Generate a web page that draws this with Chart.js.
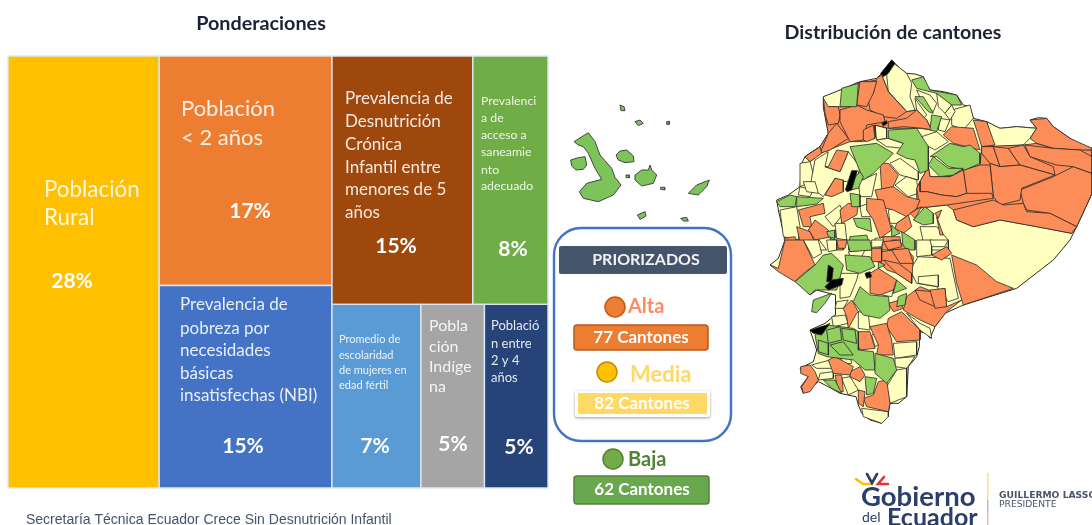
<!DOCTYPE html>
<html lang="es"><head><meta charset="utf-8"><title>Ponderaciones y distribución de cantones</title>
<script src="https://cdn.jsdelivr.net/npm/chart.js@4"></script>
<style>html,body{margin:0;padding:0;background:#fff;overflow:hidden}canvas{display:block;filter:blur(.55px)}</style></head>
<body><canvas id="c" width="1092" height="525"></canvas>
<script>
// ---------- Treemap data ----------
const pesoRural=28, pesoCol2=[17,15], pesoFila1=[15,8], pesoFila2=[7,5,5];
const nombres=["Población\nRural","Población\n< 2 años","Prevalencia de\npobreza por\nnecesidades\nbásicas\ninsatisfechas (NBI)",
 "Prevalencia de\nDesnutrición\nCrónica\nInfantil entre\nmenores de 5\naños","Prevalenci\na de\nacceso a\nsaneamie\nnto\nadecuado",
 "Promedio de\nescolaridad\nde mujeres en\nedad fértil","Pobla\nción\nIndíge\nna","Població\nn entre\n2 y 4\naños"];
const coloresTree=["#FFC000","#ED7D31","#4472C4","#9E480E","#70AD47","#5B9BD5","#A5A5A5","#264478"];
// ---------- Legend data ----------
const priorizados="PRIORIZADOS", niveles=["Alta","Media","Baja"], cantones=[77,82,62];
// ---------- Map geometry (map units) ----------
const C={alta:"#FC8D59",media:"#FFFFBF",baja:"#91CF60",densa:"#000000"};
const contorno=[[395,30],[420,55],[440,70],[465,72],[490,80],[500,105],[510,120],[550,125],[590,135],[610,165],[630,170],[640,205],[680,215],[720,235],[770,230],[830,235],[810,210],[835,203],[860,205],[880,230],[930,265],[960,285],[996,295],[996,430],[950,530],[930,570],[880,630],[770,715],[610,765],[555,790],[525,830],[510,865],[500,850],[480,845],[478,890],[470,920],[445,950],[440,1040],[415,1060],[390,1060],[385,1090],[365,1120],[330,1110],[305,1090],[295,1065],[288,1040],[240,1030],[205,1010],[175,995],[130,1030],[122,1010],[145,980],[120,955],[160,935],[170,900],[150,840],[195,820],[225,795],[225,770],[228,735],[170,720],[150,735],[110,690],[55,660],[30,645],[55,625],[75,570],[55,480],[50,450],[85,435],[120,410],[125,340],[135,320],[180,290],[205,250],[190,170],[190,140],[240,120],[300,95],[350,85],[365,70]];
const medianosN=[
[[380,75],[395,35],[440,70],[455,100],[450,140],[465,180],[440,185],[385,125]],
[[680,215],[720,235],[770,230],[830,235],[810,265],[790,285],[700,290]],
[[575,180],[630,165],[640,205],[610,240],[575,225]],
[[470,120],[510,135],[530,160],[520,185],[490,165]],
[[530,130],[560,150],[575,165],[555,190],[535,170]],
[[555,190],[575,165],[585,185],[570,210]],
[[540,205],[570,210],[555,245],[535,240]],
[[465,145],[500,195],[490,205],[470,180]],
[[345,225],[380,235],[380,265],[350,270]],
[[350,270],[385,265],[430,280],[430,295],[380,290]],
[[485,260],[530,245],[565,275],[525,300],[490,280]],
[[120,340],[150,335],[165,390],[120,410]],
[[165,330],[205,305],[195,350],[240,365],[265,305],[300,350],[290,390],[250,395],[225,385],[190,440],[150,410]],
[[60,480],[110,470],[120,530],[115,570],[70,560]],
[[195,500],[240,465],[250,490],[220,530]],
[[225,520],[255,520],[260,570],[230,565]],
[[130,570],[170,560],[200,600],[140,600]],
[[295,395],[350,370],[335,440],[300,440]],
[[390,340],[420,325],[475,365],[475,390],[420,375]],
[[405,405],[440,380],[470,390],[475,430],[445,440]],
[[385,480],[420,470],[445,495],[410,520],[390,520]],
[[480,530],[530,530],[565,570],[565,600],[495,600]],
[[120,410],[160,420],[150,440],[115,435]],
[[130,395],[165,395],[175,430],[140,425]],
[[300,470],[335,455],[340,500],[305,500]],
[[345,565],[390,560],[385,590],[345,595]]];
const altosN=[
[[665,290],[790,285],[830,280],[880,295],[996,300],[996,430],[950,530],[935,550],[830,530],[720,510],[640,530],[590,510],[580,480],[560,465],[470,475],[470,415],[480,395],[505,350],[510,380],[570,380],[610,360],[660,345]],
[[240,170],[290,170],[285,100],[350,90],[365,75],[385,125],[440,185],[470,180],[500,210],[515,240],[480,235],[385,235],[345,225],[345,265],[310,275],[270,275],[205,300],[180,310],[150,335],[135,320],[180,290],[205,250],[200,225],[190,170],[205,170]],
[[830,235],[810,210],[860,205],[880,230],[930,265],[996,295],[996,300],[960,300],[880,295],[830,280],[810,265]],
[[640,210],[680,215],[705,285],[665,290],[650,240]],
[[550,255],[575,230],[640,235],[655,285],[660,300],[620,290],[580,280]],
[[780,420],[880,380],[940,350],[996,370],[996,430],[950,530],[870,490],[800,480],[790,460]],
[[665,290],[700,290],[720,350],[690,340],[665,310]],
[[700,290],[745,295],[780,345],[720,350]],
[[745,295],[790,285],[810,320],[880,350],[885,375],[780,345]],
[[795,285],[880,295],[960,300],[996,320],[996,370],[940,350],[890,345],[810,320]],
[[690,340],[720,350],[780,345],[885,375],[785,415],[780,450],[720,465],[700,440]],
[[610,360],[660,345],[690,345],[700,440],[620,430]],
[[480,395],[505,350],[510,380],[570,380],[610,360],[620,430],[590,440],[545,435],[500,425],[480,425]],
[[470,415],[480,395],[480,425],[500,425],[545,435],[590,440],[620,430],[695,430],[700,445],[560,465],[470,475],[475,445]],
[[580,480],[620,470],[700,450],[730,465],[790,460],[800,485],[870,490],[950,530],[935,550],[830,530],[720,510],[640,530],[590,510]],
[[350,85],[365,75],[385,125],[440,185],[410,205],[370,200],[330,180],[325,150],[340,130]],
[[300,95],[350,95],[340,130],[320,170],[290,165]],
[[190,145],[205,170],[235,170],[240,195],[235,220],[205,225],[195,190]],
[[240,180],[290,165],[320,180],[370,195],[375,215],[320,225],[310,270],[270,275],[240,215]],
[[205,250],[230,220],[265,265],[210,300],[180,310]],
[[135,320],[180,290],[185,310],[150,335]],
[[385,215],[440,205],[470,180],[500,210],[515,240],[490,235],[430,230],[385,235]],
[[310,240],[340,225],[345,265],[320,275],[310,270]],
[[205,350],[230,300],[265,305],[255,330],[240,365],[195,350]],
[[360,340],[385,340],[415,375],[395,420],[365,420]],
[[225,385],[250,390],[250,425],[215,440],[195,435]],
[[345,420],[400,410],[440,440],[480,450],[470,475],[440,500],[400,480],[360,470]],
[[115,480],[190,460],[195,490],[150,500],[155,530],[130,530]],
[[240,480],[265,460],[295,465],[290,495],[245,520]],
[[320,445],[370,450],[395,540],[360,565],[340,510],[320,480]],
[[165,510],[205,540],[215,560],[165,570],[145,540]],
[[110,530],[150,545],[170,590],[125,600]],
[[410,520],[445,495],[455,530],[430,550],[405,535]],
[[450,490],[485,470],[465,505]],
[[525,490],[545,480],[535,505]],
[[530,500],[550,555],[540,555]],
[[370,560],[420,560],[425,600],[365,600]],
[[210,565],[250,575],[250,600],[215,600]],
[[72,565],[105,560],[120,600],[82,600]]];
const bajosN=[
[[270,290],[350,280],[400,310],[380,330],[340,370],[310,390],[290,340]],
[[385,240],[470,235],[505,290],[505,360],[480,370],[465,330],[440,325],[410,310],[430,280],[385,265]],
[[510,320],[570,280],[610,290],[630,285],[660,310],[660,340],[615,360],[565,350],[530,320]],
[[505,345],[520,320],[565,355],[610,355],[580,375],[540,380]],
[[245,115],[295,100],[290,170],[240,170]],
[[455,90],[490,80],[510,120],[590,135],[605,165],[575,165],[530,130],[470,115]],
[[465,140],[490,140],[520,190],[505,185]],
[[515,195],[545,200],[530,245],[510,240]],
[[50,455],[90,435],[110,440],[105,470],[60,470]],
[[110,440],[190,445],[170,462],[110,470]],
[[270,400],[300,365],[310,380],[295,415],[270,420]],
[[270,430],[300,435],[300,470],[275,470]],
[[280,505],[330,505],[335,545],[290,530]],
[[270,560],[320,555],[335,600],[265,600]],
[[200,545],[225,540],[225,565],[205,560]],
[[460,510],[495,470],[520,490],[520,520],[490,525]],
[[395,525],[420,550],[395,560]],
[[425,545],[465,570],[465,600],[430,600]]];
const densosN=[[[362,70],[395,30],[405,40],[385,70],[370,80]],[[256,420],[275,362],[292,362],[275,420],[262,425]],[[365,220],[380,212],[382,220],[370,228]]];
const medianosS=[
[[450,90],[475,50],[570,55],[595,175],[565,185],[530,140],[470,130]],
[[470,0],[515,0],[515,45],[470,50]],[[510,0],[565,0],[555,20],[515,20]],
[[240,100],[295,100],[290,120],[270,170],[240,175]],
[[440,220],[480,250],[510,265],[515,295],[480,270]],
[[215,230],[255,225],[265,250],[220,260]],[[230,185],[265,180],[250,205],[225,205]],
[[295,215],[325,220],[330,270],[295,265]],
[[400,310],[470,305],[470,345],[405,355]],[[405,355],[465,350],[440,385],[405,380]],
[[410,390],[440,385],[440,470],[390,490],[380,440]],
[[305,505],[385,515],[385,530],[365,550],[310,530]],
[[245,415],[270,410],[295,450],[265,465]],
[[155,375],[210,360],[220,385],[170,385]],[[180,400],[220,395],[220,415],[175,420]],
[[335,0],[370,0],[365,20],[335,22]],[[130,0],[175,0],[185,40],[160,55]],
[[335,285],[355,275],[360,310],[345,320]],[[240,350],[270,345],[275,370],[250,372]],
[[200,0],[230,0],[230,30],[205,35]],[[265,35],[315,30],[305,50],[270,50]],
[[360,150],[400,150],[395,170],[365,165]],[[475,110],[535,105],[535,140],[475,130]]];
const altosS=[
[[575,45],[650,75],[710,125],[760,145],[610,195],[590,130]],
[[30,75],[55,85],[75,0],[130,0],[165,75],[130,100],[105,125],[55,95]],
[[330,100],[355,85],[410,120],[400,150],[360,165],[330,160]],
[[355,60],[365,35],[400,30],[395,0],[415,0],[460,50],[455,130],[410,100],[380,90]],
[[395,30],[445,25],[460,70],[420,70]],
[[370,60],[415,70],[455,100],[455,130],[410,100]],
[[335,25],[365,25],[365,65],[335,65]],
[[515,45],[560,20],[575,40],[545,60]],
[[370,5],[420,0],[425,20],[385,30]],
[[230,0],[262,0],[255,25],[235,25]],
[[440,170],[480,140],[520,155],[555,145],[560,200],[605,180],[560,215],[525,260],[480,240],[430,210]],
[[465,150],[520,155],[525,200],[480,180]],
[[510,150],[555,145],[560,200],[525,205]],
[[385,190],[420,180],[430,205],[400,215]],
[[385,235],[425,215],[480,270],[480,300],[410,305],[380,260]],
[[330,260],[380,250],[395,300],[400,345],[350,345],[355,315]],
[[290,275],[330,275],[345,325],[300,330],[290,305]],
[[250,205],[275,180],[295,215],[290,220],[265,265],[260,230]],
[[355,425],[380,420],[390,490],[385,515],[320,500],[310,475],[340,465]],
[[295,450],[315,455],[310,500],[295,490]],
[[270,395],[300,380],[315,405],[300,425],[270,410]],
[[205,360],[225,350],[280,380],[270,405],[220,400]],
[[122,380],[150,375],[165,395],[175,420],[150,455],[130,460],[125,440],[145,410],[122,400]],
[[225,405],[245,405],[250,455],[235,455]]];
const bajosS=[
[[105,125],[165,75],[190,45],[215,40],[250,75],[230,150],[165,150],[150,165]],
[[300,140],[330,165],[385,170],[390,210],[360,235],[310,225],[280,185]],
[[410,120],[440,145],[400,160]],
[[155,215],[160,180],[215,160],[195,190],[170,218]],
[[165,285],[200,255],[280,265],[295,275],[295,330],[340,335],[345,390],[315,390],[280,360],[200,350],[175,340]],
[[200,270],[240,260],[245,300],[205,310]],[[245,265],[285,270],[290,310],[250,300]],
[[175,300],[205,310],[205,345],[175,335]],[[210,315],[250,305],[280,345],[240,345]],
[[345,340],[400,355],[410,390],[380,430],[345,400]],
[[315,410],[350,415],[340,460],[320,465]],
[[190,420],[225,420],[245,460],[215,445]],
[[255,45],[330,50],[345,80],[300,100],[260,90]],
[[260,0],[330,0],[335,30],[270,35]],
[[415,170],[440,160],[435,195],[410,200]],
[[355,65],[375,75],[355,85]]];
const densosS=[[[205,75],[220,85],[215,125],[200,125]],[[215,120],[250,115],[245,135],[205,150],[195,140]],[[150,270],[200,255],[210,250],[185,285],[160,280]],[[315,100],[330,95],[335,110],[320,115]]];
const galapagos=[
[[72,155],[115,128],[135,155],[150,195],[185,235],[195,262],[213,285],[190,315],[145,335],[100,325],[88,305],[110,280],[155,268],[135,235],[115,190],[100,170],[85,165]],
[[62,210],[85,203],[105,200],[110,225],[100,238],[78,240],[65,228]],
[[198,195],[210,183],[230,180],[250,198],[252,215],[225,218],[205,210]],
[[255,255],[275,240],[295,240],[300,225],[305,240],[320,255],[310,280],[275,288],[255,270]],
[[415,310],[440,285],[478,270],[470,290],[445,315]],
[[262,375],[285,365],[288,378],[270,388]],[[392,385],[410,382],[415,393],[400,393]],
[[255,95],[270,90],[280,100],[265,107]],[[210,45],[222,50],[225,62],[213,62]],
[[350,95],[358,94],[358,103],[350,103]],[[228,255],[238,255],[238,263],[228,263]],
[[332,292],[344,292],[344,300],[332,298]]];

// ---------- Treemap layout from the weights ----------
const T={x:8,y:56,w:540,h:432}, total=pesoRural+pesoCol2[0]+pesoCol2[1]+pesoFila1[0]+pesoFila1[1]+pesoFila2[0]+pesoFila2[1]+pesoFila2[2];
function sum(a){return a.reduce((s,v)=>s+v,0)}
function celdas(){const r=[];let x=T.x;
 const w0=T.w*pesoRural/total;r.push([x,T.y,w0,T.h]);x+=w0;
 const w1=T.w*sum(pesoCol2)/total;let h=T.h*pesoCol2[0]/sum(pesoCol2);r.push([x,T.y,w1,h]);r.push([x,T.y+h,w1,T.h-h]);x+=w1;
 const w2=T.x+T.w-x,rest=sum(pesoFila1)+sum(pesoFila2);const h1=T.h*sum(pesoFila1)/rest;
 let xx=x;pesoFila1.forEach(p=>{const w=w2*p/sum(pesoFila1);r.push([xx,T.y,w,h1]);xx+=w});
 xx=x;pesoFila2.forEach(p=>{const w=w2*p/sum(pesoFila2);r.push([xx,T.y+h1,w,T.h-h1]);xx+=w});
 return r}
const cellRects=celdas();
const pesos=[pesoRural,pesoCol2[0],pesoCol2[1],pesoFila1[0],pesoFila1[1],pesoFila2[0],pesoFila2[1],pesoFila2[2]];

// ---------- Datasets ----------
function poly(pts,fill,stroke,bw,xID,yID){const d=pts.map(p=>({x:p[0],y:p[1]}));d.push(d[0]);
 return {type:'scatter',showLine:true,data:d,xAxisID:xID,yAxisID:yID,backgroundColor:fill,borderColor:stroke,borderWidth:bw,pointRadius:0,tension:0,fill:'shape',clip:false}}
const ds=[];
cellRects.forEach((r,i)=>ds.push(poly([[r[0],r[1]],[r[0]+r[2],r[1]],[r[0]+r[2],r[1]+r[3]],[r[0],r[1]+r[3]]],coloresTree[i],"#DCE6F2",1.4,'px','py')));
const S="#2a2a2a",B=.8;
ds.push(poly(contorno,C.media,S,1,'mx','mn'));
[[medianosN,C.media],[altosN,C.alta],[bajosN,C.baja],[densosN,C.densa]].forEach(g=>g[0].forEach(p=>ds.push(poly(p,g[1],S,B,'mx','mn'))));
[[medianosS,C.media],[altosS,C.alta],[bajosS,C.baja],[densosS,C.densa]].forEach(g=>g[0].forEach(p=>ds.push(poly(p,g[1],S,B,'mx','ms'))));
galapagos.forEach(p=>ds.push(poly(p,"#7CC35A","#444",1,'gx','gy')));

// ---------- Text & legend drawing ----------
const F='Lato, "Open Sans", sans-serif';
const textos=[
 [44,[190,218],22.4],[181,[109,138],22],[180,[305,329,351,374,396],17],[345,[99,122,145,168,190,213],17],
 [481,[101,118,135,152,170,186],12.3],[339,[339,355,370,385],11],[429,[326,347,367,387],16],[491,[326,344,361,378],13]];
const pctPos=[[72,281],[250,211],[243,446],[396,246],[513,249],[375,446],[453,444],[519,447]];
function txt(c,s,x,y,font,col,al){c.font=font;c.fillStyle=col;c.textAlign=al||'left';c.textBaseline='middle';c.fillText(s,x,y)}
function rr(c,x,y,w,h,r,fill,stroke,lw){c.beginPath();c.roundRect(x,y,w,h,r);if(fill){c.fillStyle=fill;c.fill()}if(stroke){c.strokeStyle=stroke;c.lineWidth=lw||1;c.stroke()}}
function dot(c,x,y,r,fill,stroke){c.beginPath();c.ellipse(x,y,r,r,0,0,7);c.fillStyle=fill;c.fill();c.strokeStyle=stroke;c.lineWidth=1.5;c.stroke()}
const deco={id:'deco',afterDatasetsDraw(ch){const c=ch.ctx;c.save();
 txt(c,"Ponderaciones",261,24,'bold 19.8px '+F,"#1b2233",'center');
 txt(c,"Distribución de cantones",893,33,'bold 19.6px '+F,"#1b2233",'center');
 nombres.forEach((n,i)=>{const t=textos[i];n.split("\n").forEach((l,k)=>txt(c,l,t[0],t[1][k],t[2]+'px '+F,"rgba(255,255,255,.88)"));
  txt(c,pesos[i]+"%",pctPos[i][0],pctPos[i][1],'bold 21px '+F,"#fff",'center')});
 txt(c,"Secretaría Técnica Ecuador Crece Sin Desnutrición Infantil",26,520,'14px "Liberation Sans", Arial, sans-serif',"#44546A");
 rr(c,554,228,177,213,27,null,"#4472C4",2.4);
 rr(c,559,246,168,28,2,"#44546A");
 txt(c,priorizados,646,260,'bold 16px '+F,"#f2f2f2",'center');
 dot(c,615,307,10,"#ED7D31","#C55A11");
 txt(c,niveles[0],628,307,'bold 20px '+F,"#FF8A65");
 rr(c,574,325,134,25,3,"#ED7D31","#B85A1F",1.5);
 txt(c,cantones[0]+" Cantones",641,338,'bold 17px '+F,"#fff",'center');
 dot(c,607,372,10,"#FFC000","#BF9000");
 txt(c,niveles[1],630,375,'bold 22px '+F,"#FFD966");
 c.save();c.shadowColor="rgba(0,0,0,.4)";c.shadowBlur=3;c.shadowOffsetY=1;rr(c,575,391,135,26,2,"#fff");c.restore();
 rr(c,578,393,129,21,0,"#FFD966");
 txt(c,cantones[1]+" Cantones",642,404,'bold 17px '+F,"#fff",'center');
 dot(c,613,459,10,"#70AD47","#548235");
 txt(c,niveles[2],628,460,'bold 20px '+F,"#548235");
 rr(c,574,476,135,28,3,"#6AA84F","#548235",1.5);
 txt(c,cantones[2]+" Cantones",642,490,'bold 17px '+F,"#fff",'center');
 c.lineWidth=2.6;c.lineCap='round';
 [["#FFC000",[[856,479],[863,484],[871,484]]],["#2B3F6B",[[867,474],[872,483],[877,474]]],["#E2343A",[[888,484],[878,484],[884,477]]]].forEach(s=>{c.strokeStyle=s[0];c.beginPath();s[1].forEach((p,i)=>i?c.lineTo(p[0],p[1]):c.moveTo(p[0],p[1]));c.stroke()});
 txt(c,"Gobierno",861,497,'bold 27.5px '+F,"#2B3F6B");
 txt(c,"del",862,517,'14px '+F,"#2B3F6B");
 txt(c,"Ecuador",887,518,'bold 25px '+F,"#2B3F6B");
 [["#FFE08A",473,500],["#B5BCC9",500,511],["#F2B5B0",511,525]].forEach(s=>{c.fillStyle=s[0];c.fillRect(987,s[1],1.5,s[2]-s[1])});
 txt(c,"GUILLERMO LASSO",999,496,'bold 9.2px "DejaVu Sans", sans-serif',"#4a5568");
 txt(c,"PRESIDENTE",999,505,'9.2px "DejaVu Sans", sans-serif',"#4a5568");
 c.restore()}};

function lin(min,max,rev){return {type:'linear',display:false,min,max,reverse:!!rev}}
new Chart(document.getElementById('c'),{type:'scatter',data:{datasets:ds.reverse()},plugins:[deco],options:{responsive:false,animation:false,
 layout:{padding:0},plugins:{legend:{display:false},tooltip:{enabled:false},title:{display:false}},
 scales:{px:Object.assign(lin(0,1092),{axis:'x'}),py:Object.assign(lin(0,525,true),{axis:'y'}),
  mx:Object.assign(lin(-2280,996),{axis:'x'}),mn:Object.assign(lin(-150,1425,true),{axis:'y'}),ms:Object.assign(lin(-720,855,true),{axis:'y'}),
  gx:Object.assign(lin(-1650,1626),{axis:'x'}),gy:Object.assign(lin(-270,1305,true),{axis:'y'})}}});
</script></body></html>
